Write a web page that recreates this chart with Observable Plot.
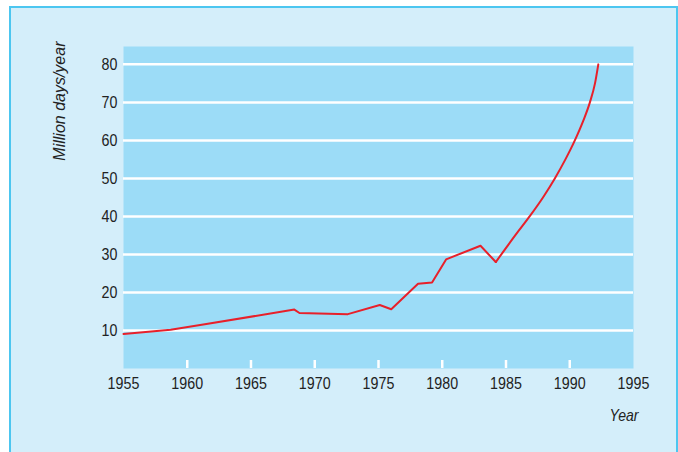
<!DOCTYPE html>
<html>
<head>
<meta charset="utf-8">
<script src="https://cdn.jsdelivr.net/npm/d3@7"></script>
<script src="https://cdn.jsdelivr.net/npm/@observablehq/plot@0.6"></script>
<style>
  html, body { margin: 0; padding: 0; background: #ffffff; width: 678px; height: 452px; overflow: hidden; }
  #box { position: absolute; left: 9px; top: 6px; width: 665px; height: 470px; border: 2px solid #4cc6f0; background: #d4eefa; }
  #chart { position: absolute; left: 0; top: 0; }
</style>
</head>
<body>
<div id="box"></div>
<div id="chart"></div>
<script>
const years = [1955, 1958.7, 1961.5, 1968.4, 1968.8, 1972.6, 1975.1, 1976.0, 1978.1, 1979.2, 1980.3, 1983.0, 1984.2, 1985.72, 1986.85, 1987.9, 1988.83, 1989.66, 1990.4, 1991.04, 1991.58, 1991.98, 1992.24];
const values = [9.1, 10.2, 11.7, 15.5, 14.6, 14.3, 16.7, 15.6, 22.3, 22.6, 28.7, 32.3, 28.0, 35, 40, 45, 50, 55, 60, 65, 70, 75, 80];
const xTickLabels = [1955, 1960, 1965, 1970, 1975, 1980, 1985, 1990, 1995];
const xTickMarks = [1960, 1965, 1970, 1975, 1980, 1985, 1990];
const yTicks = [10, 20, 30, 40, 50, 60, 70, 80];
const yTitle = "Million days/year";
const xTitle = "Year";

const data = years.map((y, i) => ({year: y, value: values[i]}));
const font = "'Liberation Sans', Arial, Helvetica, sans-serif";

const early = data.filter(d => d.year <= 1984.2);
const late = data.filter(d => d.year >= 1984.2);

const chart = Plot.plot({
  width: 678,
  height: 452,
  marginLeft: 123,
  marginRight: 45,
  marginTop: 46,
  marginBottom: 84,
  style: {background: "transparent", fontFamily: font, fontSize: "17px", color: "#222"},
  x: {domain: [1955, 1995]},
  y: {domain: [0, 84.7]},
  marks: [
    Plot.frame({fill: "#9cdcf7", stroke: null}),
    Plot.ruleY(yTicks, {stroke: "white", strokeWidth: 2.5}),
    Plot.axisX({ticks: xTickMarks, tickSize: -8, text: null, stroke: "white", strokeWidth: 2.5, label: null}),
    Plot.axisX({ticks: xTickLabels, tickSize: 0, tickPadding: 8, tickFormat: d => String(d), label: null, fill: "#222"}),
    Plot.axisY({ticks: yTicks, tickSize: 0, tickPadding: 6, label: null, fill: "#222"}),
    Plot.line(early, {x: "year", y: "value", stroke: "#e8202a", strokeWidth: 2}),
    Plot.line(late, {x: "year", y: "value", stroke: "#e8202a", strokeWidth: 2, curve: "monotone-x"}),
    Plot.text([yTitle], {frameAnchor: "top-left", dx: -70, dy: -5, rotate: -90, textAnchor: "end", fontStyle: "italic", fontSize: 16, fill: "#222"}),
    Plot.text([xTitle], {frameAnchor: "bottom-right", dx: 5, dy: 52, textAnchor: "end", fontStyle: "italic", fontSize: 16, fill: "#222", className: "narrowYear"})
  ]
});
document.getElementById("chart").appendChild(chart);

// condensed lettering (narrow typeface look)
d3.select(chart).selectAll("g[aria-label='x-axis tick label'] text, g[aria-label='y-axis tick label'] text")
  .attr("transform", function() { return (this.getAttribute("transform") || "") + " scale(0.84,1)"; });
d3.select(chart).selectAll(".narrowYear text")
  .attr("transform", function() { return (this.getAttribute("transform") || "") + " scale(0.88,1)"; });
</script>
</body>
</html>
